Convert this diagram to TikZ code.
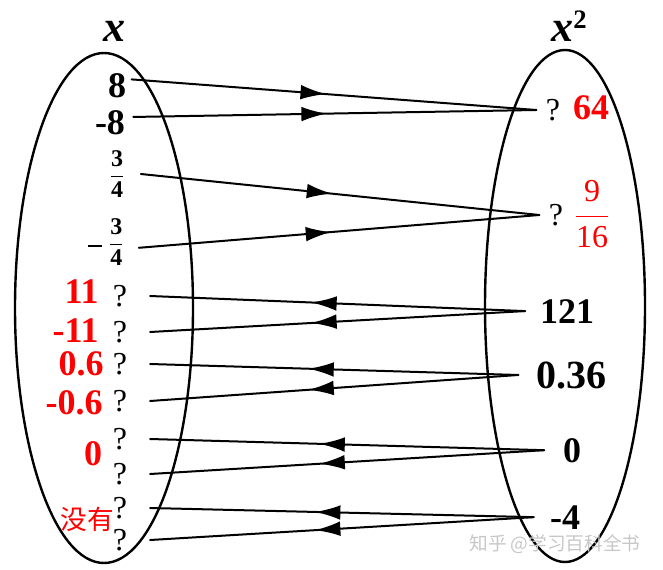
\documentclass[tikz,border=0pt]{standalone}
\usepackage{fontspec}
\setmainfont{Liberation Serif}
\newfontfamily\cjk{Noto Sans CJK SC}
\usetikzlibrary{arrows.meta,decorations.markings}

\begin{document}
\begin{tikzpicture}[x=0.75pt,y=-0.75pt,line join=round,line cap=round,
    grande/.style={font=\fontsize{27}{29}\selectfont\bfseries,inner ysep=0pt},
    domanda/.style={font=\fontsize{24}{26}\selectfont,inner ysep=0pt},
    insieme/.style={line width=1.8pt},
    freccia/.style={line width=1.5pt,postaction={decorate},
      decoration={markings,mark=at position #1 with {\arrow{Latex[length=19pt,width=11pt]}}}},
    freccia/.default=0.48]

  \useasboundingbox (0,0) rectangle (663,570);

  % ---- i due insiemi --------------------------------------------------------
  \draw[insieme] (104,308) ellipse [x radius=89,y radius=255];
  \draw[insieme] (565,306) ellipse [x radius=80,y radius=256];

  \node[anchor=base,font=\fontsize{33}{35}\selectfont\bfseries\itshape] (tx) at (114,42) {x};
  \node[anchor=base] (tx2) at (569,42) {{\fontsize{33}{35}\selectfont\bfseries\itshape x}\raisebox{10pt}{\fontsize{20}{21}\selectfont\bfseries 2}};

  % ---- valori noti di x ----------------------------------------------------
  \node[grande,anchor=base,inner xsep=4pt] (n8) at (117,98) {8};
  \node[grande,anchor=base,inner xsep=6pt] (m8) at (110,135) {-8};
  \node[inner xsep=12pt,inner ysep=0pt] (n34) at (117,174)
    {\fontsize{18}{20}\selectfont$\displaystyle\frac{\mbox{\bfseries 3}}{\mbox{\bfseries 4}}$};
  \node[inner xsep=11pt,inner ysep=0pt] (m34) at (106,242)
    {\fontsize{18}{20}\selectfont\raisebox{2pt}{\rule{10.5pt}{1.4pt}}\hspace{5pt}$\displaystyle\frac{\mbox{\bfseries 3}}{\mbox{\bfseries 4}}$};

  % ---- i quadrati cercati --------------------------------------------------
  \node[domanda,inner xsep=7pt] (q64) at (553,110) {?};
  \node[grande,red,anchor=base] (v64) at (591,120) {64};
  \node[domanda,inner xsep=7pt] (q916) at (556,215) {?};
  \node[red,inner sep=0pt] (v916) at (592,214)
    {\fontsize{24}{26}\selectfont$\displaystyle\frac{\mbox{9}}{\mbox{16}}$};

  % ---- quadrati noti -------------------------------------------------------
  \node[grande,anchor=base,inner xsep=11pt] (v121) at (567,323) {121};
  \node[grande,anchor=base,inner xsep=13pt,font=\fontsize{30}{32}\selectfont\bfseries] (v036) at (571,388) {0.36};
  \node[grande,anchor=base,inner xsep=14pt] (v0) at (572,462) {0};
  \node[grande,anchor=base,inner xsep=12pt] (vm4) at (565,529) {-4};

  % ---- le radici cercate ---------------------------------------------------
  \node[domanda,inner xsep=17pt] (q1) at (120,296) {?};
  \node[domanda,inner xsep=17pt] (q2) at (120,332) {?};
  \node[domanda,inner xsep=17pt] (q3) at (120,364) {?};
  \node[domanda,inner xsep=17pt] (q4) at (120,401) {?};
  \node[domanda,inner xsep=17pt] (q5) at (120,439) {?};
  \node[domanda,inner xsep=17pt] (q6) at (120,474) {?};
  \node[domanda,inner xsep=17pt] (q7) at (120,508) {?};
  \node[domanda,inner xsep=17pt] (q8) at (120,540) {?};

  \node[grande,red,anchor=base east,inner xsep=0pt] (r11) at (99,303) {11};
  \node[grande,red,anchor=base east,inner xsep=0pt] (rm11) at (99,342) {-11};
  \node[grande,red,anchor=base east,inner xsep=0pt] (r06) at (104,375) {0.6};
  \node[grande,red,anchor=base east,inner xsep=0pt] (rm06) at (103,414) {-0.6};
  \node[grande,red,anchor=base] (r0) at (93,465) {0};
  \node[red,inner sep=0pt,font=\cjk\fontsize{20}{22}\selectfont] (rno) at (87,519) {没有};

  % ---- frecce --------------------------------------------------------------
  \draw[freccia] (n8.25) -- (q64.west);
  \draw[freccia] (m8.15) -- (q64.west);
  \draw[freccia] (n34.east) -- (q916.west);
  \draw[freccia] (m34.-10) -- (q916.west);

  \draw[freccia=0.57] (v121.west) -- (q1.east);
  \draw[freccia=0.57] (v121.west) -- (q2.east);
  \draw[freccia=0.57] (v036.west) -- (q3.east);
  \draw[freccia=0.57] (v036.west) -- (q4.east);
  \draw[freccia=0.57] (v0.west) -- (q5.east);
  \draw[freccia=0.57] (v0.west) -- (q6.east);
  \draw[freccia=0.57] (vm4.west) -- (q7.east);
  \draw[freccia=0.57] (vm4.west) -- (q8.east);

  \node[text=black!22,font=\cjk\fontsize{14}{15}\selectfont] (marca) at (555,544) {知乎 @学习百科全书};

\end{tikzpicture}
\end{document}
